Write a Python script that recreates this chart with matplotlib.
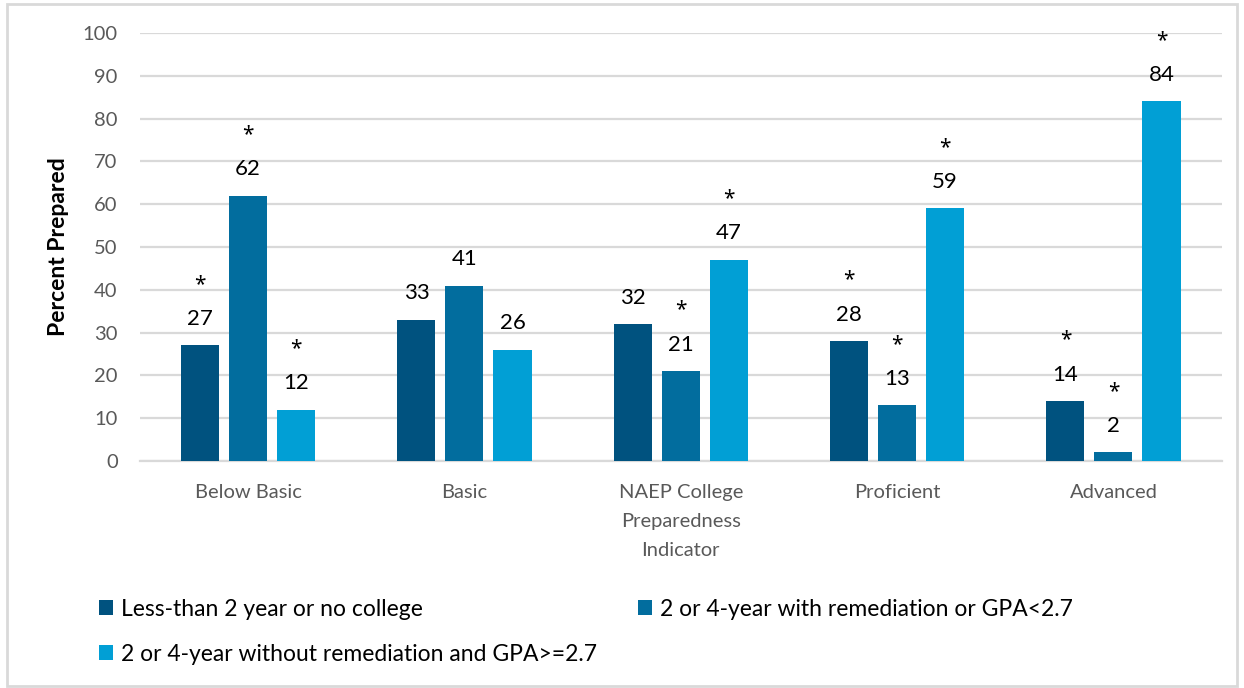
import numpy as np
import matplotlib.pyplot as plt
from matplotlib.patches import Rectangle

plt.rcParams['font.family'] = ['Lato', 'DejaVu Sans']

categories = ['Below Basic', 'Basic', 'NAEP College\nPreparedness\nIndicator', 'Proficient', 'Advanced']
series_names = ['Less-than 2 year or no college',
                '2 or 4-year with remediation or GPA<2.7',
                '2 or 4-year without remediation and GPA>=2.7']
less_than_2yr = [27, 33, 32, 28, 14]
with_remediation = [62, 41, 21, 13, 2]
without_remediation = [12, 26, 47, 59, 84]
# significance markers, one flag per bar
star_less = [True, False, False, True, True]
star_with = [True, False, True, True, True]
star_without = [True, False, True, True, True]

colors = ['#00527f', '#026d9e', '#019fd5']
grid_col = '#d9d9d9'
tick_col = '#595959'

fig = plt.figure(figsize=(12.44, 6.88), dpi=100)
ax = fig.add_axes([0.1125, 0.33, 0.8695, 0.622])

x = np.arange(len(categories))
w = 0.176
step = 0.222
series = [less_than_2yr, with_remediation, without_remediation]
stars = [star_less, star_with, star_without]
handles = []
for i, (vals, st) in enumerate(zip(series, stars)):
    pos = x + (i - 1) * step
    bars = ax.bar(pos, vals, width=w, color=colors[i], zorder=3, label=series_names[i])
    handles.append(bars)
    for p, v, s in zip(pos, vals, st):
        ax.annotate(str(v), (p, v), xytext=(0, 19), textcoords='offset points',
                    ha='center', va='center', fontsize=16, color='black')
        if s:
            ax.annotate('*', (p, v), xytext=(0, 44), textcoords='offset points',
                        ha='center', va='center', fontsize=15, color='black',
                        family=['Noto Sans', 'DejaVu Sans'])

ax.set_xlim(-0.5, len(categories) - 0.5)
ax.set_ylim(0, 100)
ax.set_yticks(np.arange(0, 101, 10))
ax.yaxis.grid(True, color=grid_col, linewidth=1.6, zorder=0)
ax.set_axisbelow(True)
for s in ['top', 'right', 'left']:
    ax.spines[s].set_visible(False)
ax.spines['bottom'].set_color(grid_col)
ax.spines['bottom'].set_linewidth(1.6)
ax.tick_params(axis='both', length=0, colors=tick_col, labelsize=14.5)
ax.tick_params(axis='y', pad=16)
ax.tick_params(axis='x', pad=16.5)
ax.set_xticks(x)
ax.set_xticklabels(categories, linespacing=1.85)
ax.set_ylabel('Percent Prepared', fontsize=16.5, fontweight='bold', color='black', labelpad=10)

order = [0, 2, 1]
leg = fig.legend([handles[k] for k in order], [series_names[k] for k in order],
                 loc='upper left', bbox_to_anchor=(0.063, 0.16), ncol=2,
                 frameon=False, fontsize=16.5, handlelength=0.6, handleheight=0.6,
                 handletextpad=0.35, columnspacing=1.8, labelspacing=1.05)

fig.add_artist(Rectangle((0.006, 0.003), 0.988, 0.991, transform=fig.transFigure,
                         fill=False, edgecolor=grid_col, linewidth=2))

fig.savefig('out.png', dpi=100)
